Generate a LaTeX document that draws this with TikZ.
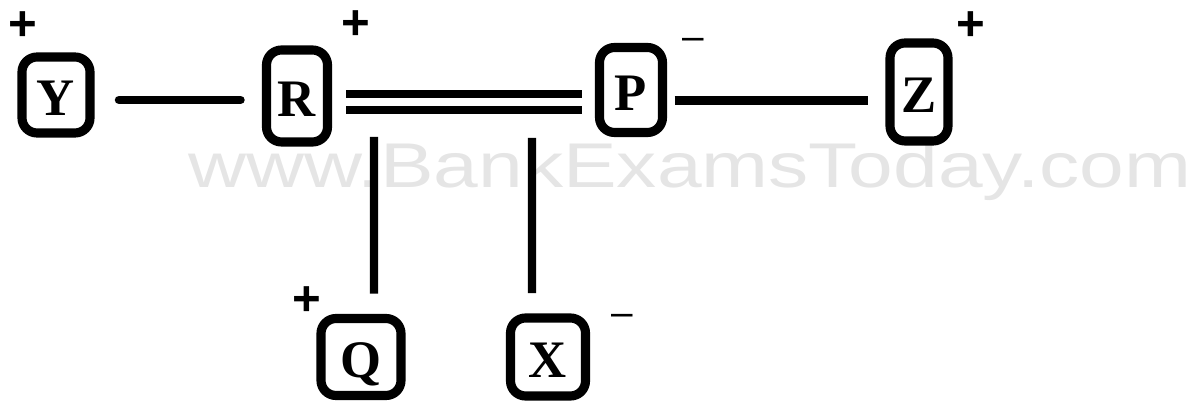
\documentclass[tikz,border=0pt]{standalone}
\usepackage{fontspec}
\setmainfont{Liberation Serif}
\newfontfamily\markfont{Liberation Sans}
\usetikzlibrary{positioning}

\begin{document}
\begin{tikzpicture}[x=0.02cm, y=-0.02cm,
					atom/.style={draw, line width=5.2pt, rounded corners=0.3cm,
						outer sep=0pt, inner sep=0pt, text height=0.84cm, text depth=0pt,
						font=\fontsize{30}{30}\selectfont\bfseries},
					bond/.style={line width=4.8pt},
					plus/.style={inner sep=0pt, font=\markfont\bfseries\fontsize{28}{28}\selectfont},
					minus/.style={inner sep=0pt, font=\markfont\fontsize{22}{22}\selectfont},
					watermark/.style={text=black!10, inner sep=0pt, anchor=base west,
						font=\markfont\fontsize{36}{36}\selectfont}]

	\useasboundingbox (0,0) rectangle (1196,404);

	\node[watermark] (wm) at (188,188) {\scalebox{1.27}[1]{www.BankExamsToday.com}};

	\node[atom, minimum width=1.36cm, minimum height=1.52cm] (Y) at (56,95)  {Y};
	\node[atom, minimum width=1.22cm, minimum height=1.84cm] (R) at (297,96)  {R};
	\node[atom, minimum width=1.26cm, minimum height=1.70cm] (P) at (631,90)  {P};
	\node[atom, minimum width=1.16cm, minimum height=1.96cm] (Z) at (919,92)  {Z};
	\node[atom, minimum width=1.60cm, minimum height=1.54cm] (Q) at (361,357) {Q};
	\node[atom, minimum width=1.50cm, minimum height=1.56cm] (X) at (548,357) {X};

	\node[plus]  (cY) at (23,26)  {+};
	\node[plus]  (cR) at (356,25) {+};
	\node[minus] (cP) at (693,44) {–};
	\node[plus]  (cZ) at (971,26) {+};
	\node[plus]  (cQ) at (307,301) {+};
	\node[minus] (cX) at (622,320) {–};

	\coordinate (qtop) at (374,137);
	\coordinate (xtop) at (532,138);

	\draw[bond, line cap=round, shorten <=0.58cm, shorten >=0.52cm]
		([yshift=-0.1cm]Y.east) -- ([yshift=-0.1cm]Y.east -| R.west);
	\draw[bond, shorten <=0.38cm, shorten >=0.36cm]
		([yshift=0.04cm]R.east) -- ([yshift=0.04cm]R.east -| P.west);
	\draw[bond, shorten <=0.38cm, shorten >=0.36cm]
		([yshift=-0.28cm]R.east) -- ([yshift=-0.28cm]R.east -| P.west);
	\draw[bond, shorten <=0.24cm, shorten >=0.44cm]
		([yshift=-0.21cm]P.east) -- ([yshift=-0.21cm]P.east -| Z.west);
	\draw[bond, shorten <=0.5cm] ([xshift=0.26cm]Q.north) -- (qtop);
	\draw[bond, shorten <=0.5cm] ([xshift=-0.32cm]X.north) -- (xtop);
\end{tikzpicture}
\end{document}
